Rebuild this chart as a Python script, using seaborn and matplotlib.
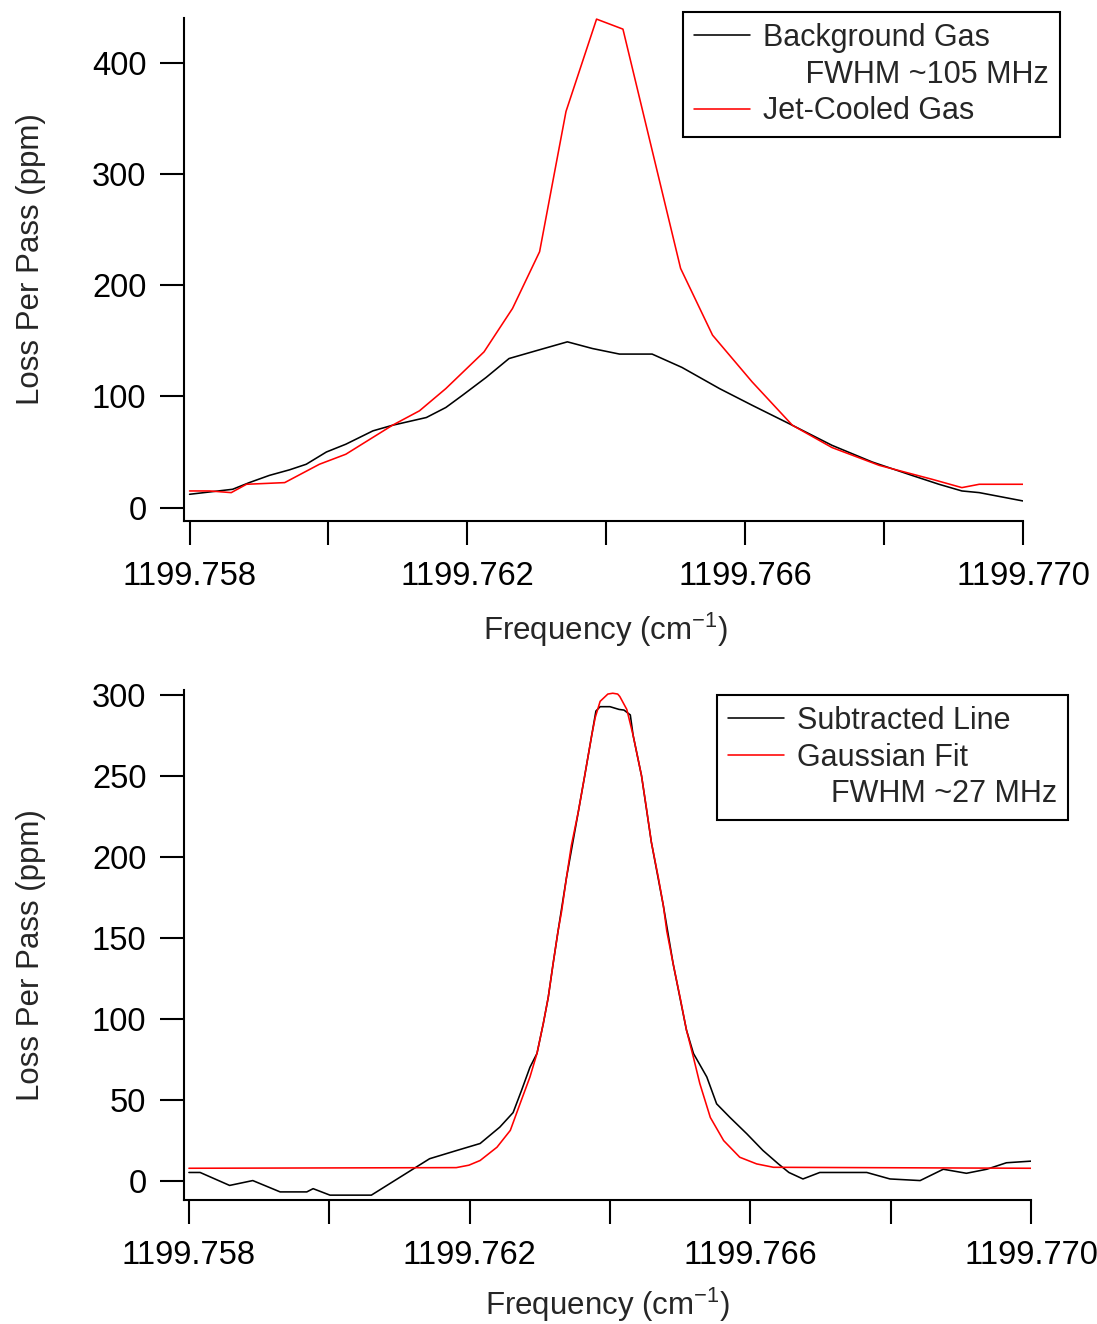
import matplotlib
matplotlib.use('Agg')
import matplotlib.pyplot as plt
from matplotlib.lines import Line2D
import seaborn as sns

# top panel: background gas vs jet-cooled gas
bg_freq = [1199.75800, 1199.75862, 1199.75886, 1199.75915, 1199.75944, 1199.75968, 1199.75997,
           1199.76025, 1199.76064, 1199.76092, 1199.76141, 1199.76169, 1199.76193, 1199.76227,
           1199.76260, 1199.76299, 1199.76344, 1199.76380, 1199.76419, 1199.76466, 1199.76509,
           1199.76563, 1199.76610, 1199.76668, 1199.76725, 1199.76783, 1199.76840, 1199.76879,
           1199.76912, 1199.76937, 1199.77000]
bg_loss = [12, 16.5, 22.5, 29, 34, 39, 50, 57, 69, 74, 81, 90, 101, 117, 134, 141, 149, 143,
           138, 138, 126, 107, 92, 74, 56, 41, 29, 21, 15, 13.5, 6]

jet_freq = [1199.75800, 1199.75829, 1199.75860, 1199.75882, 1199.75937, 1199.75987, 1199.76025,
            1199.76092, 1199.76131, 1199.76169, 1199.76224, 1199.76265, 1199.76304, 1199.76342,
            1199.76386, 1199.76424, 1199.76507, 1199.76553, 1199.76610, 1199.76668, 1199.76725,
            1199.76793, 1199.76869, 1199.76912, 1199.76937, 1199.77000]
jet_loss = [15, 15, 13.5, 21, 22.5, 39, 48, 74, 87, 107, 140, 179, 230, 356, 439, 430, 215, 155,
            113, 74, 54, 38, 25.5, 18, 21, 21]

# bottom panel: subtracted line and gaussian fit
sub_freq = [1199.75800, 1199.75816, 1199.75858, 1199.75891, 1199.75930, 1199.75968, 1199.75977,
            1199.76001, 1199.76060, 1199.76119, 1199.76143, 1199.76181, 1199.76215, 1199.76243,
            1199.76262, 1199.76274, 1199.76286, 1199.76296, 1199.76305, 1199.76312, 1199.76319,
            1199.76326, 1199.76338, 1199.76355, 1199.76364, 1199.76374, 1199.76380, 1199.76386,
            1199.76400, 1199.76413, 1199.76420, 1199.76429, 1199.76433, 1199.76445, 1199.76459,
            1199.76476, 1199.76490, 1199.76509, 1199.76519, 1199.76538, 1199.76552, 1199.76571,
            1199.76595, 1199.76618, 1199.76640, 1199.76655, 1199.76675, 1199.76699, 1199.76766,
            1199.76799, 1199.76842, 1199.76875, 1199.76908, 1199.76937, 1199.76965, 1199.77000]
sub_loss = [5, 5, -3, 0, -7, -7, -5, -9, -9, 7, 13.5, 18.5, 22.9, 33, 42, 55.7, 70, 78.5, 97,
            113, 134, 154, 187, 228, 250, 275, 290, 292.7, 292.7, 291, 290.6, 287.6, 275, 250,
            209, 170, 134, 93, 78.5, 64, 47.4, 39, 28.9, 18.6, 10.3, 5, 1, 5, 5, 1, 0, 7, 4.5,
            7, 11, 12]

fit_freq = [1199.75800, 1199.76181, 1199.76199, 1199.76215, 1199.76239, 1199.76258, 1199.76272,
            1199.76286, 1199.76296, 1199.76305, 1199.76312, 1199.76319, 1199.76326, 1199.76331,
            1199.76338, 1199.76345, 1199.76355, 1199.76364, 1199.76374, 1199.76379, 1199.76386,
            1199.76397, 1199.76404, 1199.76411, 1199.76414, 1199.76424, 1199.76433, 1199.76445,
            1199.76452, 1199.76459, 1199.76469, 1199.76476, 1199.76481, 1199.76490, 1199.76500,
            1199.76509, 1199.76519, 1199.76528, 1199.76543, 1199.76562, 1199.76585, 1199.76609,
            1199.76633, 1199.77000]
fit_loss = [7.6, 8, 9.5, 12.4, 20.6, 31, 47.6, 64, 78.5, 97, 113, 134, 154, 166, 187, 207, 228,
            250, 275, 286, 296, 300.5, 301, 300.5, 299, 291, 275, 250, 230, 209, 187, 170, 154,
            134, 113, 93, 76, 60, 39, 24.7, 14.4, 10.3, 8.2, 7.6]

x_ticks = [1199.758, 1199.760, 1199.762, 1199.764, 1199.766, 1199.768, 1199.770]
x_ticklabels = ['1199.758', '', '1199.762', '', '1199.766', '', '1199.770']
top_yticks = [0, 100, 200, 300, 400]
bottom_yticks = [0, 50, 100, 150, 200, 250, 300]

sns.set_style('ticks')
plt.rcParams['font.family'] = ['Liberation Sans', 'DejaVu Sans']
plt.rcParams['mathtext.default'] = 'regular'

W, H = 1097, 1324
fig = plt.figure(figsize=(W / 100, H / 100), dpi=100)
ax1 = fig.add_axes([184 / W, 1 - 521 / H, (1023 - 184) / W, (521 - 18) / H])
ax2 = fig.add_axes([184 / W, 1 - 1200 / H, (1031 - 184) / W, (1200 - 690) / H])

lw = 1.15
sns.lineplot(x=bg_freq, y=bg_loss, ax=ax1, color='black', linewidth=lw)
sns.lineplot(x=jet_freq, y=jet_loss, ax=ax1, color='red', linewidth=lw)
sns.lineplot(x=sub_freq, y=sub_loss, ax=ax2, color='black', linewidth=lw)
sns.lineplot(x=fit_freq, y=fit_loss, ax=ax2, color='red', linewidth=lw)

ax1.set_xlim(1199.75792, 1199.770)
ax1.set_ylim(-12, 440)
ax2.set_xlim(1199.75793, 1199.770)
ax2.set_ylim(-12, 303)
ax1.set_yticks(top_yticks)
ax2.set_yticks(bottom_yticks)

for ax in (ax1, ax2):
    sns.despine(ax=ax)
    for s in ('left', 'bottom'):
        ax.spines[s].set_linewidth(1.5)
        ax.spines[s].set_color('black')
    ax.set_xticks(x_ticks)
    ax.set_xticklabels(x_ticklabels)
    ax.tick_params(axis='both', length=17, width=1.5, direction='out', labelsize=23.5,
                   colors='black')
    ax.tick_params(axis='x', pad=12)
    ax.tick_params(axis='y', pad=10)
    ax.set_xlabel('Frequency (cm$^{-1}$)', fontsize=22.5)
    ax.set_ylabel('Loss Per Pass (ppm)', fontsize=22.5)

ax1.yaxis.set_label_coords((46 - 184) / 839, 0.52)
ax2.yaxis.set_label_coords((46 - 184) / 847, 0.48)
ax1.xaxis.set_label_coords(0.502, -(611 - 521) / 503)
ax2.xaxis.set_label_coords(0.5, -(1286 - 1200) / 510)

blank = Line2D([], [], color='none')
leg_kw = dict(loc='upper right', bbox_transform=fig.transFigure, borderaxespad=0, fontsize=22,
              fancybox=False, framealpha=1, edgecolor='black', handlelength=1.83,
              handletextpad=0.43, labelspacing=0.22, borderpad=0.36)
leg1 = ax1.legend(handles=[Line2D([], [], color='black', lw=lw), blank,
                           Line2D([], [], color='red', lw=lw)],
                  labels=['Background Gas', '     FWHM ~105 MHz', 'Jet-Cooled Gas'],
                  bbox_to_anchor=(1060 / W, 1 - 12 / H), **leg_kw)
leg1.get_frame().set_linewidth(1.5)

leg2 = ax2.legend(handles=[Line2D([], [], color='black', lw=lw),
                           Line2D([], [], color='red', lw=lw), blank],
                  labels=['Subtracted Line', 'Gaussian Fit', '    FWHM ~27 MHz'],
                  bbox_to_anchor=(1068 / W, 1 - 695 / H), **leg_kw)
leg2.get_frame().set_linewidth(1.5)

fig.savefig('out.png', dpi=100)
